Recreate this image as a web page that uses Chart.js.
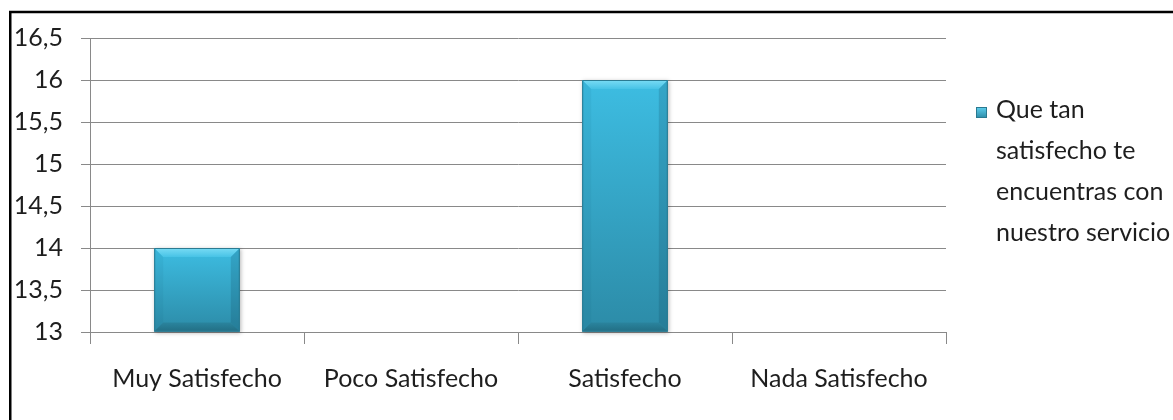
<!DOCTYPE html>
<html>
<head>
<meta charset="utf-8">
<script src="https://cdn.jsdelivr.net/npm/chart.js@4.4.1/dist/chart.umd.min.js"></script>
<style>
  html, body { margin: 0; padding: 0; background: #ffffff; overflow: hidden; }
  canvas { display: block; }
</style>
</head>
<body>
<canvas id="grafico" width="1173" height="420"></canvas>
<script>
// Categorías y valores de la encuesta
const categories = ['Muy Satisfecho', 'Poco Satisfecho', 'Satisfecho', 'Nada Satisfecho'];
const satisfaccion = [14, 13, 16, 13];
const seriesName = 'Que tan satisfecho te encuentras con nuestro servicio';
const legendLines = ['Que tan', 'satisfecho te', 'encuentras con', 'nuestro servicio'];
const yMin = 13;
const yMax = 16.5;
const yStep = 0.5;

const GRID = '#898989';
const TEXT = '#1e1e1e';
const BAR_BASE = '#36abce';

// Fondo blanco y marco negro superior/izquierdo
const framePlugin = {
  id: 'marco',
  beforeDraw(chart) {
    const ctx = chart.ctx;
    ctx.save();
    ctx.fillStyle = '#ffffff';
    ctx.fillRect(0, 0, chart.width, chart.height);
    ctx.restore();
  },
  afterDraw(chart) {
    const ctx = chart.ctx;
    ctx.save();
    ctx.strokeStyle = '#000000';
    ctx.lineWidth = 2.5;
    ctx.beginPath();
    ctx.moveTo(10.25, chart.height + 2);
    ctx.lineTo(10.25, 12);
    ctx.lineTo(chart.width + 2, 12);
    ctx.stroke();
    ctx.restore();
  }
};

function poly(ctx, pts, fill) {
  ctx.beginPath();
  ctx.moveTo(pts[0][0], pts[0][1]);
  for (let i = 1; i < pts.length; i++) ctx.lineTo(pts[i][0], pts[i][1]);
  ctx.closePath();
  ctx.fillStyle = fill;
  ctx.fill();
}

// Barras con relieve (biselado) sobre la geometría calculada por Chart.js
const bevelPlugin = {
  id: 'biselado',
  afterDatasetsDraw(chart) {
    const ctx = chart.ctx;
    const meta = chart.getDatasetMeta(0);
    meta.data.forEach(bar => {
      const p = bar.getProps(['x', 'y', 'base', 'width'], true);
      const l = p.x - p.width / 2, r = p.x + p.width / 2;
      const t = Math.min(p.y, p.base), b = Math.max(p.y, p.base);
      if (b - t < 1) return;
      const d = Math.min(9, (b - t) / 4, p.width / 5);
      ctx.save();
      ctx.shadowColor = 'rgba(0,0,0,0.28)';
      ctx.shadowBlur = 4;
      ctx.shadowOffsetX = 1;
      ctx.shadowOffsetY = 1;
      const g = ctx.createLinearGradient(0, t, 0, b);
      g.addColorStop(0, '#3dbde2');
      g.addColorStop(1, '#2c8ba7');
      ctx.fillStyle = g;
      ctx.fillRect(l, t, r - l, b - t);
      ctx.shadowColor = 'transparent';

      const gt = ctx.createLinearGradient(0, t, 0, t + d);
      gt.addColorStop(0, '#7adcf5');
      gt.addColorStop(1, '#47c3e6');
      poly(ctx, [[l, t], [r, t], [r - d, t + d], [l + d, t + d]], gt);
      poly(ctx, [[l, t], [l + d, t + d], [l + d, b - d], [l, b]], 'rgba(20,90,120,0.07)');
      poly(ctx, [[r, t], [r, b], [r - d, b - d], [r - d, t + d]], 'rgba(10,60,85,0.18)');
      const gb = ctx.createLinearGradient(0, b - d, 0, b);
      gb.addColorStop(0, '#2a849e');
      gb.addColorStop(1, '#226e84');
      poly(ctx, [[l, b], [l + d, b - d], [r - d, b - d], [r, b]], gb);

      ctx.strokeStyle = '#2b7b92';
      ctx.lineWidth = 1;
      ctx.strokeRect(l + 0.5, t + 0.5, r - l - 1, b - t - 1);
      ctx.restore();
    });
  }
};

// Leyenda lateral en varias líneas
const sideLegendPlugin = {
  id: 'leyendaLateral',
  afterDraw(chart) {
    const ctx = chart.ctx;
    const x0 = 976, y0 = 118, pitch = 41;
    ctx.save();
    const g = ctx.createLinearGradient(0, y0 - 11, 0, y0);
    g.addColorStop(0, '#5fd0ef');
    g.addColorStop(1, '#2c8ba7');
    ctx.fillStyle = g;
    ctx.fillRect(x0, y0 - 11, 11, 11);
    ctx.strokeStyle = '#2a7990';
    ctx.lineWidth = 1;
    ctx.strokeRect(x0 + 0.5, y0 - 10.5, 10, 10);
    ctx.fillStyle = TEXT;
    ctx.font = '25px Lato';
    ctx.textBaseline = 'alphabetic';
    ctx.textAlign = 'left';
    legendLines.forEach((line, i) => ctx.fillText(line, 996, y0 + i * pitch));
    ctx.restore();
  }
};

new Chart(document.getElementById('grafico'), {
  type: 'bar',
  data: {
    labels: categories,
    datasets: [{
      label: seriesName,
      data: satisfaccion,
      base: yMin,
      backgroundColor: BAR_BASE,
      borderWidth: 0,
      categoryPercentage: 1.0,
      barPercentage: 0.4
    }]
  },
  options: {
    responsive: false,
    devicePixelRatio: 1,
    animation: false,
    layout: { padding: { top: 38, right: 227, bottom: 0, left: 12 } },
    plugins: {
      legend: { display: false },
      tooltip: { enabled: false }
    },
    scales: {
      x: {
        afterFit(scale) { scale.height = 88; },
        grid: {
          offset: true,
          drawOnChartArea: false,
          drawTicks: true,
          tickLength: 12,
          color: GRID,
          lineWidth: 1
        },
        border: { display: true, color: GRID, width: 1 },
        ticks: {
          color: TEXT,
          font: { family: 'Lato', size: 25 },
          padding: 20,
          maxRotation: 0
        }
      },
      y: {
        min: yMin,
        max: yMax,
        afterFit(scale) { scale.width = 78; },
        grid: {
          color: GRID,
          lineWidth: 1,
          tickLength: 9
        },
        border: { display: true, color: GRID, width: 1 },
        ticks: {
          stepSize: yStep,
          color: TEXT,
          font: { family: 'Lato', size: 25 },
          padding: 18,
          callback: v => String(v).replace('.', ',')
        }
      }
    }
  },
  plugins: [framePlugin, bevelPlugin, sideLegendPlugin]
});
</script>
</body>
</html>
